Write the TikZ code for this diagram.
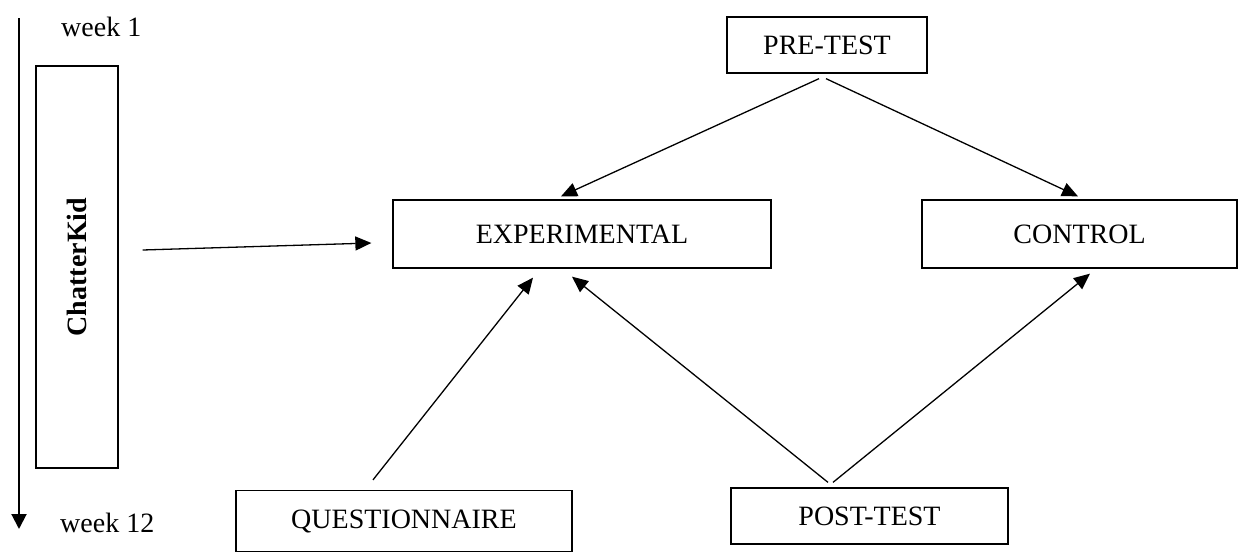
\documentclass[tikz,border=0pt]{standalone}
\usepackage{fontspec}
\setmainfont{Liberation Serif}
\usetikzlibrary{arrows.meta}
\begin{document}
\begin{tikzpicture}[x=1pt,y=-1pt,
  box/.style={draw, line width=1.3pt, inner sep=0pt, font=\fontsize{28}{32}\selectfont},
  lbl/.style={inner sep=0pt, font=\fontsize{28}{32}\selectfont},
  arr/.style={line width=1.3pt, -{Triangle[length=16pt,width=14pt]}}]
\useasboundingbox (0,0) rectangle (1239,552);
% boxes
\node[box, minimum width=200pt, minimum height=56pt] (pre) at (827,45) {PRE-TEST};
\node[box, minimum width=378pt, minimum height=68pt] (exp) at (582,234) {EXPERIMENTAL};
\node[box, minimum width=315pt, minimum height=68pt] (ctrl) at (1079.5,234) {CONTROL};
\node[box, minimum width=336pt, minimum height=61pt] (quest) at (404,521) {QUESTIONNAIRE};
\node[box, minimum width=277pt, minimum height=56pt] (post) at (869.5,516) {POST-TEST};
\node[box, minimum width=82pt, minimum height=402pt] (chat) at (77,267) {};
\node[lbl, rotate=90, font=\fontsize{28}{32}\selectfont\bfseries] (chatlbl) at (chat.center) {ChatterKid};
% timeline
\coordinate (tltop) at (19,18);
\coordinate (tlbot) at (19,529);
\draw[line width=2pt, -{Triangle[length=15pt,width=15pt]}] (tltop) -- (tlbot);
\node[lbl, anchor=west] (w1) at (61,27) {week 1};
\node[lbl, anchor=west] (w12) at (60,523) {week 12};
% connectors
\draw[arr] ([xshift=-8pt,yshift=-5pt]pre.south) -- ([xshift=-21pt,yshift=3pt]exp.north);
\draw[arr] ([xshift=-1pt,yshift=-5pt]pre.south) -- ([xshift=-1.5pt,yshift=3pt]ctrl.north);
\draw[arr] ([xshift=24pt,yshift=17pt]chat.east) -- ([xshift=-21pt,yshift=-9pt]exp.west);
\draw[arr] ([xshift=-31pt,yshift=10pt]quest.north) -- ([xshift=-49pt,yshift=-9pt]exp.south);
\draw[arr] ([xshift=-41.5pt,yshift=5pt]post.north) -- ([xshift=-10pt,yshift=-8pt]exp.south);
\draw[arr] ([xshift=-36.5pt,yshift=5pt]post.north) -- ([xshift=10.5pt,yshift=-5pt]ctrl.south);
\end{tikzpicture}
\end{document}
